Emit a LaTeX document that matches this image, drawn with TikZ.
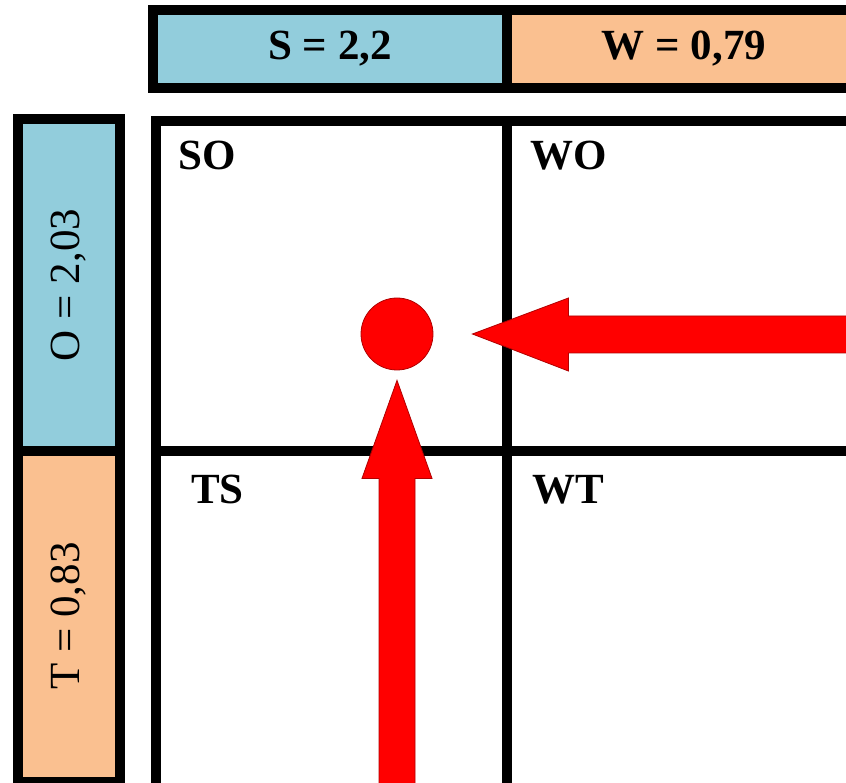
\documentclass[tikz,border=0pt]{standalone}
\usepackage{fontspec}
\setmainfont{Liberation Serif}
\definecolor{SwotBlue}{HTML}{92CDDC}
\definecolor{SwotOrange}{HTML}{FAC090}
\definecolor{SwotRed}{HTML}{FF0000}
\definecolor{SwotEdge}{HTML}{B00000}
\usetikzlibrary{calc,positioning}

\begin{document}
\begin{tikzpicture}[x=1pt,y=-1pt,
    scorebox/.style={draw=black,line width=10pt,inner sep=0pt,
      font=\fontsize{43}{48}\selectfont\bfseries},
    sidebox/.style={draw=black,line width=10pt,inner sep=0pt,
      font=\fontsize{43}{48}\selectfont},
    quadlabel/.style={anchor=base west,inner sep=0pt,
      font=\fontsize{43}{48}\selectfont\bfseries},
    dot/.style={circle,fill=SwotRed,draw=SwotEdge,line width=0.8pt,
      minimum size=72pt,inner sep=0pt},
    blockarrow/.style={fill=SwotRed,draw=SwotEdge,line width=0.8pt,line join=miter}]
    \useasboundingbox (0,0) rectangle (846,783);
    \clip (0,0) rectangle (846,783);
    % top bar
    \node[scorebox,fill=SwotBlue,minimum width=354pt,minimum height=78pt] (S) at (330,49) {S = 2,2};
    \node[scorebox,fill=SwotOrange,minimum width=354pt,minimum height=78pt] (W) at (684,49) {W = 0,79};
    % side bar
    \node[sidebox,fill=SwotBlue,minimum width=102pt,minimum height=331pt,
      label={[rotate=90,font=\fontsize{43}{48}\selectfont]center:O = 2,03}] (O) at (69,285) {};
    \node[sidebox,fill=SwotOrange,minimum width=102pt,minimum height=331pt,
      label={[rotate=90,font=\fontsize{43}{48}\selectfont]center:T = 0,83}] (T) at (69,616) {};
    % matrix
    \draw[line width=10pt] (156,121) rectangle (1000,1000);
    \draw[line width=10pt] (507,121) -- (507,1000);
    \draw[line width=10pt] (156,451) -- (1000,451);
    \node[quadlabel] (SO) at (178,170) {SO};
    \node[quadlabel] (WO) at (530,170) {WO};
    \node[quadlabel] (TS) at (191,503) {TS};
    \node[quadlabel] (WT) at (532,503) {WT};
    % position
    \node[dot] (pos) at (397,334) {};
    \coordinate (tipH) at ($(pos.east)+(39,0)$);
    \coordinate (tipV) at ($(pos.south)+(0,10)$);
    \draw[blockarrow] (tipH) -- ++(96,-36) -- ++(0,18) -- ++(400,0) -- ++(0,37)
      -- ++(-400,0) -- ++(0,18) -- cycle;
    \draw[blockarrow] (tipV) -- ++(-35,98) -- ++(17,0) -- ++(0,400) -- ++(36,0)
      -- ++(0,-400) -- ++(17,0) -- cycle;
\end{tikzpicture}
\end{document}
